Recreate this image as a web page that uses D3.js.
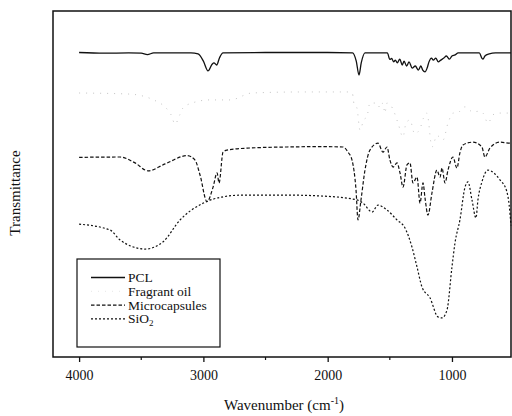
<!DOCTYPE html>
<html>
<head>
<meta charset="utf-8">
<script src="https://cdn.jsdelivr.net/npm/d3@7"></script>
<style>
  body { margin: 0; background: #fff; }
  text { font-family: "Liberation Serif", "Times New Roman", serif; fill: #111; }
</style>
</head>
<body>
<div id="chart"></div>
<script>
// FTIR spectra, [wavenumber cm-1, transmittance a.u.]
const pcl = [
  [4000, 88.0], [3800, 87.8], [3600, 87.9], [3500, 87.8], [3450, 87.4], [3400, 87.9],
  [3100, 87.9], [3043, 87.6], [3000, 85.5], [2963, 82.7], [2930, 84.6], [2915, 85.0],
  [2893, 84.4], [2870, 86.5], [2842, 87.9], [2500, 88.0], [2000, 88.0], [1800, 87.9],
  [1770, 85.5], [1748, 81.5], [1730, 85.0], [1700, 87.9], [1520, 87.9], [1500, 86.0],
  [1485, 86.3], [1470, 85.3], [1455, 85.8], [1440, 85.0], [1420, 86.1], [1400, 84.4],
  [1385, 85.5], [1365, 84.1], [1345, 85.3], [1320, 83.5], [1295, 84.1], [1270, 82.9],
  [1250, 84.1], [1235, 82.9], [1217, 82.4], [1200, 83.5], [1185, 85.3], [1165, 86.4],
  [1150, 85.8], [1130, 86.4], [1110, 85.3], [1090, 85.8], [1065, 86.4], [1045, 87.0],
  [1020, 86.1], [1000, 87.0], [975, 87.3], [950, 87.9], [780, 87.9], [760, 86.4],
  [750, 86.1], [735, 87.0], [700, 87.6], [650, 87.9], [525, 87.9]
];

const fragrantOil = [
  [4000, 76.3], [3600, 76.0], [3400, 74.3], [3260, 70.0], [3228, 67.3], [3190, 70.0],
  [3164, 72.0], [3091, 73.4], [2950, 74.3], [2785, 74.3], [2609, 76.3], [2200, 76.6],
  [1830, 76.6], [1800, 76.0], [1788, 73.1], [1765, 72.0], [1740, 65.6], [1710, 68.5],
  [1684, 69.5], [1660, 73.4], [1643, 73.4], [1600, 73.4], [1580, 72.0], [1555, 73.4],
  [1540, 70.5], [1523, 73.4], [1480, 72.0], [1434, 67.6], [1394, 63.6], [1370, 67.6],
  [1338, 68.5], [1300, 64.5], [1257, 66.0], [1230, 69.0], [1201, 70.5], [1161, 60.7],
  [1120, 64.0], [1072, 62.7], [1032, 67.6], [990, 70.5], [960, 70.5], [895, 72.3],
  [831, 70.8], [790, 71.0], [751, 70.5], [710, 67.6], [670, 70.0], [630, 70.5], [525, 70.5]
];

const microcapsules = [
  [4000, 57.7], [3670, 57.8], [3550, 56.1], [3445, 53.8], [3308, 55.8], [3131, 58.2],
  [3067, 56.9], [3027, 52.6], [2971, 44.9], [2922, 49.1], [2890, 53.2], [2874, 50.3],
  [2842, 59.2], [2810, 59.8], [2625, 60.4], [2327, 60.7], [2062, 60.8], [1877, 60.7],
  [1836, 59.2], [1804, 56.9], [1772, 48.3], [1756, 39.6], [1732, 45.4], [1700, 54.0],
  [1660, 59.8], [1595, 61.8], [1555, 59.2], [1523, 60.7], [1499, 56.9], [1474, 54.9],
  [1442, 56.1], [1418, 53.2], [1394, 49.1], [1362, 55.5], [1338, 56.1], [1314, 50.3],
  [1281, 52.0], [1257, 44.5], [1233, 50.3], [1217, 46.0], [1193, 41.0], [1161, 47.4],
  [1121, 54.0], [1096, 52.0], [1080, 54.6], [1056, 50.3], [1032, 54.0], [992, 57.8],
  [960, 54.6], [936, 59.0], [911, 61.3], [831, 62.1], [759, 60.7], [735, 57.8],
  [694, 60.4], [614, 62.1], [533, 61.8], [525, 61.8]
];

const sio2 = [
  [4000, 38.4], [3751, 36.7], [3670, 33.8], [3469, 31.2], [3324, 33.3], [3188, 39.6],
  [3000, 44.5], [2842, 46.3], [2680, 46.8], [2327, 46.8], [2037, 46.5], [1764, 45.4],
  [1716, 44.5], [1643, 41.9], [1595, 43.9], [1523, 42.5], [1442, 39.6], [1378, 37.3],
  [1322, 31.8], [1281, 26.0], [1241, 20.2], [1177, 17.1], [1113, 11.6], [1080, 11.3],
  [1040, 13.6], [1000, 26.0], [976, 32.9], [936, 39.6], [895, 49.1], [871, 50.6],
  [839, 45.4], [807, 40.2], [791, 45.4], [759, 50.6], [710, 54.0], [614, 51.2],
  [560, 48.0], [540, 44.0], [525, 38.0]
];

const seriesNames = ["PCL", "Fragrant oil", "Microcapsules", "SiO2"];
const xTicks = [4000, 3000, 2000, 1000];
const xMinorTicks = [3500, 2500, 1500];

const width = 512, height = 416;
const plotLeft = 53, plotRight = 511, plotTop = 11, plotBottom = 357;

const svg = d3.select("#chart").append("svg")
  .attr("width", width)
  .attr("height", height);

const x = d3.scaleLinear().domain([4210, 525]).range([plotLeft, plotRight]);
const y = d3.scaleLinear().domain([0, 100]).range([plotBottom, plotTop]);

const line = d3.line()
  .x(d => x(d[0]))
  .y(d => y(d[1]))
  .curve(d3.curveMonotoneX);

// fragrant oil is printed very faint in the original
const styles = [
  { data: pcl, stroke: "#111", width: 1.3, dash: null },
  { data: fragrantOil, stroke: "#c4c4c4", width: 1, dash: "1,6" },
  { data: microcapsules, stroke: "#111", width: 1.2, dash: "3.5,2" },
  { data: sio2, stroke: "#111", width: 1.2, dash: "2,2" }
];

svg.selectAll("path.spec")
  .data(styles)
  .enter().append("path")
  .attr("class", "spec")
  .attr("d", d => line(d.data))
  .attr("fill", "none")
  .attr("stroke", d => d.stroke)
  .attr("stroke-width", d => d.width)
  .attr("stroke-dasharray", d => d.dash);

// frame
svg.append("rect")
  .attr("x", plotLeft).attr("y", plotTop)
  .attr("width", plotRight - plotLeft).attr("height", plotBottom - plotTop)
  .attr("fill", "none").attr("stroke", "#111").attr("stroke-width", 1.5);

// x axis
const xAxis = svg.append("g")
  .attr("transform", `translate(0,${plotBottom})`)
  .call(d3.axisBottom(x).tickValues(xTicks).tickSize(5).tickPadding(8).tickFormat(d3.format("d")));
xAxis.select(".domain").remove();
xAxis.selectAll("line").attr("stroke", "#111").attr("stroke-width", 1.3);
xAxis.selectAll("text").style("font-size", "14px")
  .style("font-family", "Liberation Serif, serif").attr("fill", "#111");

svg.append("g").selectAll("line")
  .data(xMinorTicks)
  .enter().append("line")
  .attr("x1", d => x(d)).attr("x2", d => x(d))
  .attr("y1", plotBottom).attr("y2", plotBottom + 3)
  .attr("stroke", "#111").attr("stroke-width", 1.2);

// axis titles
const xt = svg.append("text")
  .attr("x", 284).attr("y", 410)
  .attr("text-anchor", "middle")
  .style("font-size", "15px")
  .text("Wavenumber (cm");
xt.append("tspan").attr("dy", -6).style("font-size", "10px").text("-1");
xt.append("tspan").attr("dy", 6).text(")");

svg.append("text")
  .attr("transform", "translate(20,193) rotate(-90)")
  .attr("text-anchor", "middle")
  .style("font-size", "15px")
  .text("Transmittance");

// legend
const lg = svg.append("g");
lg.append("rect")
  .attr("x", 77).attr("y", 259).attr("width", 143).attr("height", 88)
  .attr("fill", "#fff").attr("stroke", "#111").attr("stroke-width", 1.2);

const rows = lg.selectAll("g.row")
  .data(styles)
  .enter().append("g")
  .attr("class", "row")
  .attr("transform", (d, i) => `translate(0,${282 + i * 13.8})`);

rows.append("line")
  .attr("x1", 91).attr("x2", 125)
  .attr("y1", -4.5).attr("y2", -4.5)
  .attr("stroke", d => d.stroke)
  .attr("stroke-width", d => d.width)
  .attr("stroke-dasharray", d => d.dash)
  .attr("opacity", (d, i) => i === 1 ? 0.4 : 1);

rows.append("text")
  .attr("x", 128)
  .style("font-size", "13.5px")
  .each(function (d, i) {
    const t = d3.select(this);
    if (seriesNames[i] === "SiO2") {
      t.text("SiO");
      t.append("tspan").attr("dy", 3).style("font-size", "9px").text("2");
    } else {
      t.text(seriesNames[i]);
    }
  });
</script>
</body>
</html>
